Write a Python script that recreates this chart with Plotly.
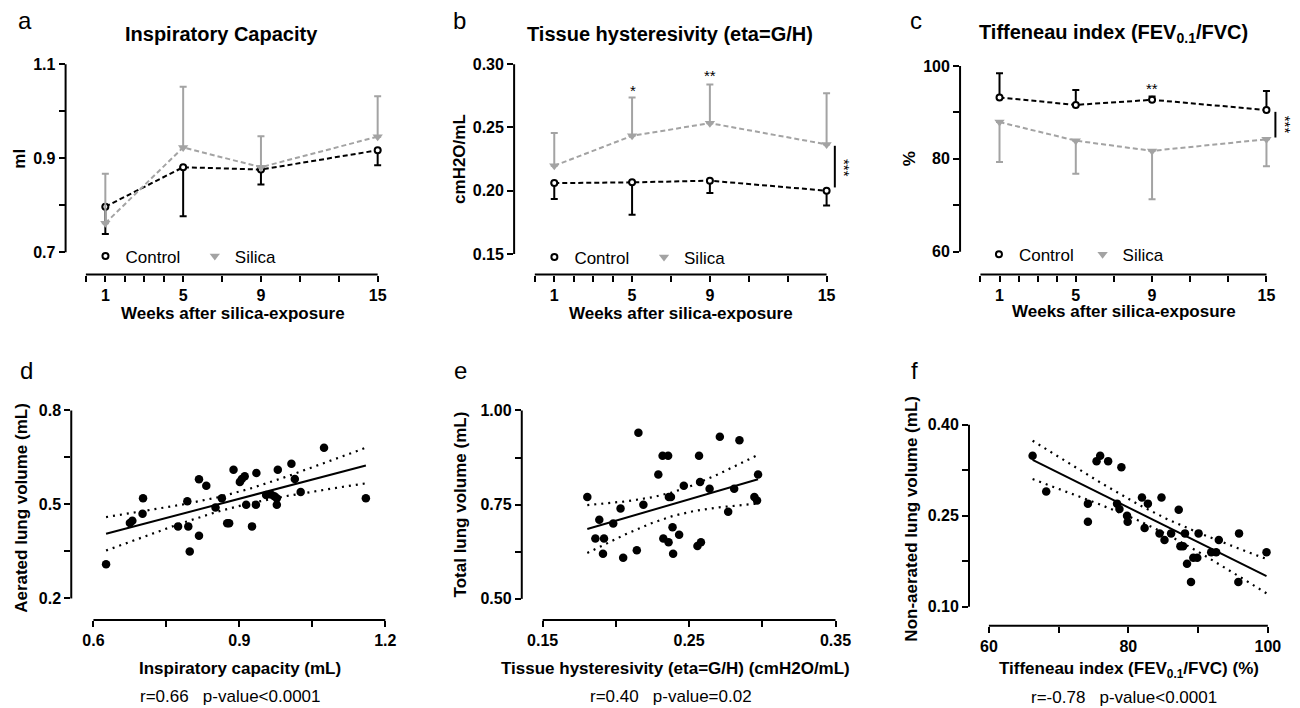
import numpy as np
import plotly.graph_objects as go

W, H = 1300, 708
FONT = "Liberation Sans, Arial, sans-serif"
GRAY = "#a3a3a3"
BLACK = "#000000"

# ---------------- time-course data (mean, SD) ----------------
weeks = [1, 5, 9, 15]

ic_control = [0.797, 0.881, 0.876, 0.917]
ic_control_sd = [0.058, 0.104, 0.032, 0.032]
ic_silica = [0.762, 0.923, 0.881, 0.946]
ic_silica_sd = [0.105, 0.129, 0.066, 0.086]

eta_control = [0.2060, 0.2066, 0.2079, 0.2000]
eta_control_sd = [0.0126, 0.0256, 0.0097, 0.0118]
eta_silica = [0.2197, 0.2434, 0.2534, 0.2366]
eta_silica_sd = [0.0260, 0.0303, 0.0305, 0.0405]

tif_control = [93.2, 91.6, 92.7, 90.5]
tif_control_sd = [5.2, 3.2, 0.7, 4.1]
tif_silica = [87.9, 83.9, 81.7, 84.2]
tif_silica_sd = [8.6, 7.1, 10.4, 5.8]

# ---------------- correlation data ----------------
insp_capacity = [0.626, 0.675, 0.680, 0.701, 0.702, 0.774, 0.793, 0.795, 0.798, 0.817,
                 0.817, 0.832, 0.851, 0.864, 0.875, 0.879, 0.888, 0.901, 0.905, 0.911,
                 0.914, 0.926, 0.934, 0.935, 0.955, 0.965, 0.972, 0.977, 0.977, 0.979,
                 1.007, 1.014, 1.026, 1.074, 1.160]
aerated_volume = [0.309, 0.441, 0.448, 0.470, 0.520, 0.430, 0.510, 0.430, 0.350, 0.400,
                  0.580, 0.560, 0.490, 0.520, 0.440, 0.440, 0.611, 0.572, 0.581, 0.590,
                  0.499, 0.430, 0.499, 0.600, 0.530, 0.532, 0.526, 0.520, 0.499, 0.611,
                  0.630, 0.581, 0.540, 0.681, 0.520]

hysteresivity = [0.1805, 0.1860, 0.1887, 0.1912, 0.1919, 0.1982, 0.2032, 0.2050, 0.2143,
                 0.2154, 0.2188, 0.2290, 0.2319, 0.2324, 0.2357, 0.2360, 0.2362, 0.2376,
                 0.2387, 0.2391, 0.2432, 0.2464, 0.2557, 0.2568, 0.2575, 0.2581, 0.2640,
                 0.2710, 0.2767, 0.2808, 0.2844, 0.2946, 0.2964, 0.2971]
total_volume = [0.770, 0.660, 0.710, 0.620, 0.660, 0.700, 0.740, 0.609, 0.629, 0.941,
                0.750, 0.830, 0.880, 0.660, 0.880, 0.650, 0.770, 0.770, 0.690, 0.620,
                0.670, 0.800, 0.640, 0.880, 0.810, 0.650, 0.792, 0.930, 0.731, 0.792,
                0.921, 0.770, 0.761, 0.830]

tiffeneau = [66.27, 68.22, 74.20, 74.20, 75.44, 75.96, 77.10, 78.38, 78.72, 79.00,
             79.81, 79.90, 81.95, 82.33, 82.80, 84.47, 84.75, 85.18, 86.13, 87.22,
             87.46, 87.84, 88.12, 88.41, 88.98, 89.31, 89.88, 90.07, 91.88, 92.59,
             92.97, 95.77, 95.87, 99.81]
nonaerated_volume = [0.349, 0.290, 0.270, 0.240, 0.340, 0.349, 0.340, 0.270, 0.261, 0.330,
                     0.250, 0.240, 0.280, 0.230, 0.270, 0.221, 0.280, 0.210, 0.221, 0.260,
                     0.200, 0.200, 0.221, 0.171, 0.141, 0.181, 0.181, 0.221, 0.190, 0.190,
                     0.210, 0.141, 0.221, 0.190]

# ---------------- panel geometry (pixels) ----------------
# xl: y-axis line, xr: right edge, yt: top, yb: x-axis line
# xcal / ycal: two (value, pixel) pairs for each axis
panels = [
    dict(xl=66, xr=392, yt=56, yb=274, xcal=(1, 106, 15, 380), ycal=(1.1, 63.3, 0.7, 251.7),
         xline=(0, 15), yline=(0.7, 1.1),
         xt=[0, 1, 2, 3, 4, 5, 7, 9, 11, 13, 15], xtl=["", "1", "", "", "", "5", "", "9", "", "", "15"],
         yt_=[0.7, 0.8, 0.9, 1.0, 1.1], ytl=["0.7", "", "0.9", "", "1.1"]),
    dict(xl=517.3, xr=845, yt=56, yb=274, xcal=(1, 557.7, 15, 831.7), ycal=(0.30, 63.3, 0.15, 253.3),
         xline=(0, 15), yline=(0.15, 0.30),
         xt=[0, 1, 2, 3, 4, 5, 7, 9, 11, 13, 15], xtl=["", "1", "", "", "", "5", "", "9", "", "", "15"],
         yt_=[0.15, 0.20, 0.25, 0.30], ytl=["0.15", "0.20", "0.25", "0.30"]),
    dict(xl=966, xr=1288, yt=56, yb=274, xcal=(1, 1005.7, 15, 1274.3), ycal=(100, 65, 60, 251),
         xline=(0, 15), yline=(60, 100),
         xt=[0, 1, 2, 3, 4, 5, 7, 9, 11, 13, 15], xtl=["", "1", "", "", "", "5", "", "9", "", "", "15"],
         yt_=[60, 70, 80, 90, 100], ytl=["60", "", "80", "", "100"]),
    dict(xl=71.7, xr=395, yt=400, yb=620, xcal=(0.6, 94, 1.2, 387.7), ycal=(0.8, 410, 0.2, 598.3),
         xline=(0.6, 1.2), yline=(0.2, 0.8),
         xt=[0.6, 0.75, 0.9, 1.05, 1.2], xtl=["0.6", "", "0.9", "", "1.2"],
         yt_=[0.2, 0.35, 0.5, 0.65, 0.8], ytl=["0.2", "", "0.5", "", "0.8"]),
    dict(xl=525, xr=848, yt=400, yb=620, xcal=(0.15, 546, 0.35, 840.7), ycal=(1.0, 410, 0.5, 598.7),
         xline=(0.15, 0.35), yline=(0.5, 1.0),
         xt=[0.15, 0.20, 0.25, 0.30, 0.35], xtl=["0.15", "", "0.25", "", "0.35"],
         yt_=[0.5, 0.625, 0.75, 0.875, 1.0], ytl=["0.50", "", "0.75", "", "1.00"]),
    dict(xl=975, xr=1290, yt=400, yb=625.7, xcal=(60, 995, 100, 1275.7), ycal=(0.40, 424.3, 0.10, 606.7),
         xline=(60, 100), yline=(0.10, 0.40),
         xt=[60, 70, 80, 90, 100], xtl=["60", "", "80", "", "100"],
         yt_=[0.10, 0.175, 0.25, 0.325, 0.40], ytl=["0.10", "", "0.25", "", "0.40"]),
]


def lin(p, v0, p0, v1, p1):
    return v0 + (p - p0) * (v1 - v0) / (p1 - p0)


def fx(p):
    return p / W


def fy(p):
    return 1 - p / H


fig = go.Figure()
layout = dict(width=W, height=H, margin=dict(l=0, r=0, t=0, b=0),
              paper_bgcolor="white", plot_bgcolor="white", showlegend=True)
shapes = []
tickfont = dict(family=FONT, size=16, color=BLACK, weight="bold")

for i, p in enumerate(panels, start=1):
    xk = "xaxis" if i == 1 else f"xaxis{i}"
    yk = "yaxis" if i == 1 else f"yaxis{i}"
    xr_ = "x" if i == 1 else f"x{i}"
    yr_ = "y" if i == 1 else f"y{i}"
    layout[xk] = dict(domain=[fx(p["xl"]), fx(p["xr"])],
                      range=[lin(p["xl"], *p["xcal"]), lin(p["xr"], *p["xcal"])],
                      anchor=yr_, showgrid=False, zeroline=False, showline=False,
                      ticks="outside", ticklen=6, tickwidth=2, tickcolor=BLACK,
                      tickvals=p["xt"], ticktext=p["xtl"], tickfont=tickfont, fixedrange=True)
    layout[yk] = dict(domain=[fy(p["yb"]), fy(p["yt"])],
                      range=[lin(p["yb"], *p["ycal"]), lin(p["yt"], *p["ycal"])],
                      anchor=xr_, showgrid=False, zeroline=False, showline=False,
                      ticks="outside", ticklen=6, tickwidth=2, tickcolor=BLACK,
                      tickvals=p["yt_"], ticktext=p["ytl"], tickfont=tickfont, fixedrange=True)
    # detached axis lines
    shapes.append(dict(type="line", xref="paper", yref=yr_, x0=fx(p["xl"]), x1=fx(p["xl"]),
                       y0=p["yline"][0], y1=p["yline"][1], line=dict(color=BLACK, width=2)))
    shapes.append(dict(type="line", xref=xr_, yref="paper", x0=p["xline"][0], x1=p["xline"][1],
                       y0=fy(p["yb"]), y1=fy(p["yb"]), line=dict(color=BLACK, width=2)))


def err(sd, up):
    zeros = [0] * len(sd)
    return dict(type="data", symmetric=False, array=sd if up else zeros,
                arrayminus=zeros if up else sd, thickness=2, width=3.5)


def time_course(ax, ctrl, ctrl_sd, ctrl_up, sil, sil_sd, sil_up):
    xa = "x" if ax == 1 else f"x{ax}"
    ya = "y" if ax == 1 else f"y{ax}"
    e = err(ctrl_sd, ctrl_up)
    e["color"] = BLACK
    fig.add_trace(go.Scatter(x=weeks, y=ctrl, mode="lines+markers", xaxis=xa, yaxis=ya,
                             line=dict(color=BLACK, width=2, dash="5px,3px"),
                             marker=dict(symbol="circle", size=6, color="white",
                                         line=dict(color=BLACK, width=2)),
                             error_y=e, cliponaxis=False, showlegend=False, name="Control"))
    e = err(sil_sd, sil_up)
    e["color"] = GRAY
    fig.add_trace(go.Scatter(x=weeks, y=sil, mode="lines+markers", xaxis=xa, yaxis=ya,
                             line=dict(color=GRAY, width=2, dash="5px,3px"),
                             marker=dict(symbol="triangle-down", size=9, color=GRAY),
                             error_y=e, cliponaxis=False, showlegend=False, name="Silica"))


time_course(1, ic_control, ic_control_sd, False, ic_silica, ic_silica_sd, True)
time_course(2, eta_control, eta_control_sd, False, eta_silica, eta_silica_sd, True)
time_course(3, tif_control, tif_control_sd, True, tif_silica, tif_silica_sd, False)


def fit_band(x, y, t=2.03, n=80):
    x = np.asarray(x, float)
    y = np.asarray(y, float)
    slope, icpt = np.polyfit(x, y, 1)
    xs = np.linspace(x.min(), x.max(), n)
    yhat = icpt + slope * xs
    resid = y - (icpt + slope * x)
    s = np.sqrt(np.sum(resid ** 2) / (len(x) - 2))
    sxx = np.sum((x - x.mean()) ** 2)
    se = s * np.sqrt(1 / len(x) + (xs - x.mean()) ** 2 / sxx)
    return xs, yhat, yhat - t * se, yhat + t * se


def correlation(ax, x, y):
    xa, ya = f"x{ax}", f"y{ax}"
    xs, yhat, lo, hi = fit_band(x, y)
    for band in (lo, hi):
        fig.add_trace(go.Scatter(x=xs, y=band, mode="lines", xaxis=xa, yaxis=ya,
                                 line=dict(color=BLACK, width=2.2, dash="2px,5px"),
                                 showlegend=False, hoverinfo="skip"))
    fig.add_trace(go.Scatter(x=xs, y=yhat, mode="lines", xaxis=xa, yaxis=ya,
                             line=dict(color=BLACK, width=2), showlegend=False, hoverinfo="skip"))
    fig.add_trace(go.Scatter(x=x, y=y, mode="markers", xaxis=xa, yaxis=ya,
                             marker=dict(size=8.5, color=BLACK), cliponaxis=False, showlegend=False))


correlation(4, insp_capacity, aerated_volume)
correlation(5, hysteresivity, total_volume)
correlation(6, tiffeneau, nonaerated_volume)

# ---------------- legends (one entry per legend box) ----------------
# (label, text start x, row y, symbol)
legend_items = [
    ("Control", 126, 255.7, "circle"), ("Silica", 236, 255.7, "triangle-down"),
    ("Control", 577.7, 256.7, "circle"), ("Silica", 688, 256.7, "triangle-down"),
    ("Control", 1025, 254, "circle"), ("Silica", 1129.3, 254, "triangle-down"),
]
for k, (label, tx, sy, sym) in enumerate(legend_items, start=1):
    lk = "legend" if k == 1 else f"legend{k}"
    if sym == "circle":
        mk = dict(symbol="circle", size=6, color="white", line=dict(color=BLACK, width=2))
    else:
        mk = dict(symbol="triangle-down", size=9, color=GRAY)
    fig.add_trace(go.Scatter(x=[None], y=[None], mode="markers", marker=mk, name=label,
                             legend=lk, showlegend=True))
    layout[lk] = dict(x=fx(tx - 40), y=fy(sy), xanchor="left", yanchor="middle",
                      orientation="h", bgcolor="rgba(0,0,0,0)", borderwidth=0,
                      font=dict(family=FONT, size=17, color=BLACK), itemclick=False,
                      itemdoubleclick=False)

# ---------------- text ----------------
ann = []


def text(x, y, s, size=15, bold=False, angle=0, xanchor="center", yanchor="middle"):
    ann.append(dict(x=fx(x), y=fy(y), xref="paper", yref="paper", text=f"<b>{s}</b>" if bold else s,
                    showarrow=False, textangle=angle, xanchor=xanchor, yanchor=yanchor,
                    font=dict(family=FONT, size=size, color=BLACK)))


# panel letters
for letter, x, y in [("a", 25, 20), ("b", 462, 20), ("c", 922, 20),
                     ("d", 27, 370), ("e", 463, 370), ("f", 920, 370)]:
    text(x, y, letter, size=24)

# titles
text(223, 33, "Inspiratory Capacity", size=20, bold=True)
text(674, 33, "Tissue hysteresivity (eta=G/H)", size=20, bold=True)
text(1120, 33, "Tiffeneau index (FEV<sub>0.1</sub>/FVC)", size=20, bold=True)

# axis titles, time courses
text(20, 158, "ml", size=17, bold=True, angle=-90)
text(463, 158, "cmH2O/mL", size=17, bold=True, angle=-90)
text(915, 158, "%", size=17, bold=True, angle=-90)
for cx, cy in [(234, 313), (685, 313), (1130.5, 311)]:
    text(cx, cy, "Weeks after silica-exposure", size=17, bold=True)

# axis titles, correlations
text(241, 668, "Inspiratory capacity (mL)", size=17, bold=True)
text(680, 668, "Tissue hysteresivity (eta=G/H) (cmH2O/mL)", size=17, bold=True)
text(1136, 670, "Tiffeneau index (FEV<sub>0.1</sub>/FVC) (%)", size=17, bold=True)
text(21.7, 508, "Aerated lung volume (mL)", size=17, bold=True, angle=-90)
text(463, 504, "Total lung volume (mL)", size=17, bold=True, angle=-90)
text(917, 518, "Non-aerated lung volume (mL)", size=17, bold=True, angle=-90)

# correlation statistics
nb = "\u00a0"
text(232, 696, f"r=0.66{nb*3}p-value&lt;0.0001", size=17)
text(675, 696, f"r=0.40{nb*3}p-value=0.02", size=17)
text(1131, 697, f"r=-0.78{nb*3}p-value&lt;0.0001", size=17)

# significance marks
text(636.7, 90, "*", size=15)
text(714.3, 75, "**", size=15)
text(1159, 88, "**", size=15)
text(849, 167, "***", size=15, angle=90)
text(1293, 124, "***", size=15, angle=90)
shapes.append(dict(type="line", xref="paper", yref="paper", x0=fx(840), x1=fx(840),
                   y0=fy(145), y1=fy(186.7), line=dict(color=BLACK, width=2)))
shapes.append(dict(type="line", xref="paper", yref="paper", x0=fx(1283.3), x1=fx(1283.3),
                   y0=fy(111), y1=fy(136.7), line=dict(color=BLACK, width=2)))

layout["annotations"] = ann
layout["shapes"] = shapes
fig.update_layout(**layout)
fig.write_html("out.html")
